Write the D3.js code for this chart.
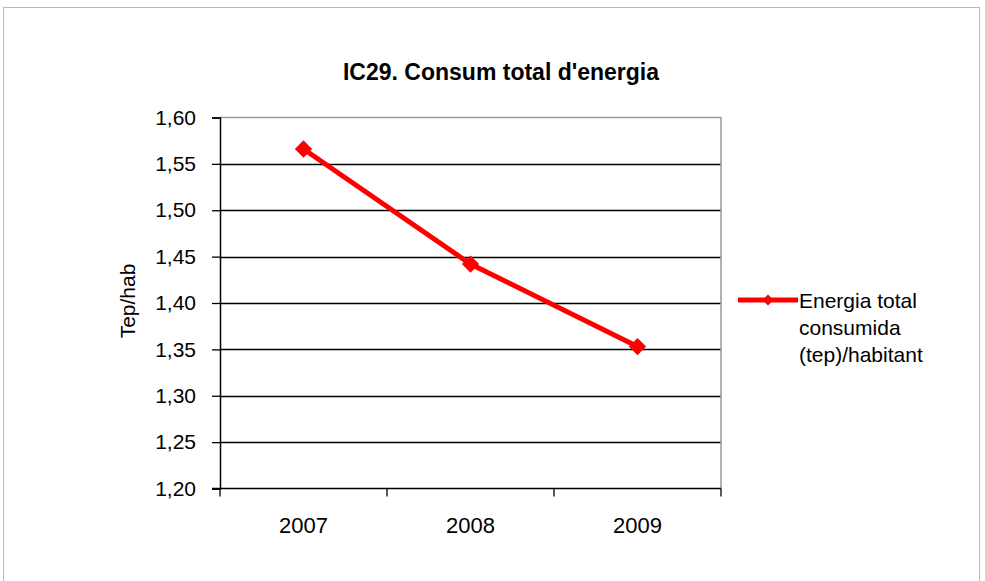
<!DOCTYPE html>
<html>
<head>
<meta charset="utf-8">
<script src="https://cdn.jsdelivr.net/npm/d3@7"></script>
<style>
  html, body { margin: 0; padding: 0; background: #fff; }
  svg { display: block; font-family: "Liberation Sans", Arial, sans-serif; }
</style>
</head>
<body>
<svg id="chart" width="985" height="581"></svg>
<script>
// Energy consumption per inhabitant (tep/hab)
const years = ["2007", "2008", "2009"];
const values = [1.566, 1.442, 1.353];
const yTicks = [1.20, 1.25, 1.30, 1.35, 1.40, 1.45, 1.50, 1.55, 1.60];
const title = "IC29. Consum total d'energia";
const yLabel = "Tep/hab";
const legendLines = ["Energia total", "consumida", "(tep)/habitant"];

const svg = d3.select("#chart");
const plot = { left: 220, right: 721, top: 117.5, bottom: 488.5 };

// outer frame
svg.append("rect")
  .attr("x", 3.5).attr("y", 7.5)
  .attr("width", 976).attr("height", 580)
  .attr("fill", "#fff").attr("stroke", "#b8b8b8").attr("stroke-width", 1);

const x = d3.scaleBand().domain(years).range([plot.left, plot.right]).padding(0);
const y = d3.scaleLinear().domain([1.20, 1.60]).range([plot.bottom, plot.top]);

const fmt = d => d.toFixed(2).replace(".", ",");

// gridlines
svg.append("g")
  .selectAll("line")
  .data(yTicks.slice(1, -1))
  .join("line")
  .attr("x1", plot.left).attr("x2", plot.right)
  .attr("y1", d => Math.round(y(d)) + 0.5).attr("y2", d => Math.round(y(d)) + 0.5)
  .attr("stroke", "#000").attr("stroke-width", 1.3);

// plot area border (top and right in gray)
svg.append("path")
  .attr("d", `M${plot.left},${plot.top}H${plot.right}V${plot.bottom}`)
  .attr("fill", "none").attr("stroke", "#999").attr("stroke-width", 1.5);

// y axis
const yAxis = d3.axisLeft(y).tickValues(yTicks).tickFormat(fmt).tickSize(8).tickPadding(16);
const gy = svg.append("g").attr("transform", `translate(${plot.left},0)`).call(yAxis);
gy.select(".domain").attr("stroke", "#000").attr("stroke-width", 1.5);
gy.selectAll(".tick line").attr("stroke", "#000").attr("stroke-width", 1.3);
gy.selectAll(".tick text").attr("font-size", 21).attr("fill", "#000")
  .attr("font-family", "Liberation Sans, Arial, sans-serif");

// x axis with ticks on category boundaries
const gx = svg.append("g").attr("transform", `translate(0,${plot.bottom})`);
gx.append("line")
  .attr("x1", plot.left - 8).attr("x2", plot.right)
  .attr("stroke", "#000").attr("stroke-width", 1.5);
const bounds = years.map(d => x(d)).concat([x(years[years.length - 1]) + x.bandwidth()]);
gx.selectAll("line.tick")
  .data(bounds)
  .join("line").attr("class", "tick")
  .attr("x1", d => d).attr("x2", d => d)
  .attr("y1", 0).attr("y2", 8)
  .attr("stroke", "#000").attr("stroke-width", 1.3);
gx.selectAll("text")
  .data(years)
  .join("text")
  .attr("x", d => x(d) + x.bandwidth() / 2)
  .attr("y", 44)
  .attr("text-anchor", "middle")
  .attr("font-size", 22)
  .attr("fill", "#000")
  .text(d => d);

// series line
const cx = d => x(d) + x.bandwidth() / 2;
const line = d3.line().x((d, i) => cx(years[i])).y(d => y(d));
svg.append("path")
  .datum(values)
  .attr("d", line)
  .attr("fill", "none")
  .attr("stroke", "#ff0000")
  .attr("stroke-width", 5);

// diamond markers
const diamond = d3.symbol().type(d3.symbolSquare).size(150);
svg.append("g")
  .selectAll("path")
  .data(values)
  .join("path")
  .attr("d", diamond)
  .attr("transform", (d, i) => `translate(${cx(years[i])},${y(d)}) rotate(45)`)
  .attr("fill", "#ff0000");

// title
svg.append("text")
  .attr("x", 501).attr("y", 80)
  .attr("text-anchor", "middle")
  .attr("font-size", 23).attr("font-weight", "bold")
  .attr("fill", "#000")
  .text(title);

// y axis label
svg.append("text")
  .attr("transform", `translate(135,${(plot.top + plot.bottom) / 2 - 2}) rotate(-90)`)
  .attr("text-anchor", "middle")
  .attr("font-size", 21)
  .attr("fill", "#000")
  .text(yLabel);

// legend
const lg = svg.append("g").attr("transform", "translate(738,300)");
lg.append("line").attr("x1", 0).attr("x2", 60).attr("y1", 0).attr("y2", 0)
  .attr("stroke", "#ff0000").attr("stroke-width", 5);
lg.append("path").attr("d", d3.symbol().type(d3.symbolSquare).size(60))
  .attr("transform", "translate(30,0) rotate(45)").attr("fill", "#ff0000");
lg.selectAll("text")
  .data(legendLines)
  .join("text")
  .attr("x", 61)
  .attr("y", (d, i) => 8 + i * 27)
  .attr("font-size", 21)
  .attr("fill", "#000")
  .text(d => d);
</script>
</body>
</html>
